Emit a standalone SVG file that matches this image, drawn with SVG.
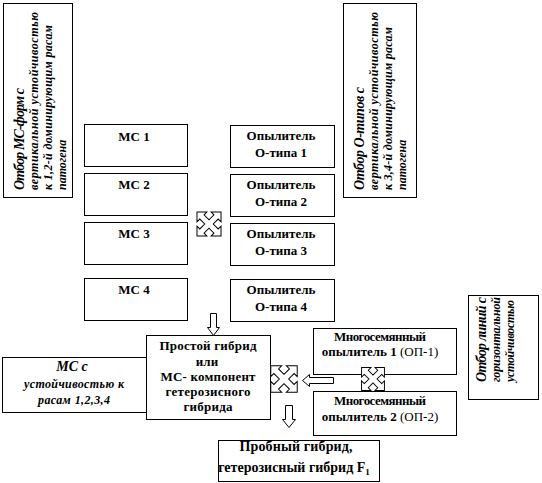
<svg xmlns="http://www.w3.org/2000/svg" width="542" height="483" viewBox="0 0 542 483">
<style>
.b{fill:#fff;stroke:#000;stroke-width:1}
.a{fill:#fff;stroke:#000;stroke-width:1;stroke-linejoin:miter}
.t{font-family:"Liberation Serif","Times New Roman",serif;font-weight:bold;font-size:13px;text-anchor:middle;fill:#000}
.n{font-weight:normal}
.v{font-family:"Liberation Serif","Times New Roman",serif;font-weight:bold;font-style:italic;font-size:12px;fill:#000}
.v1{font-size:14px}
.c{text-anchor:middle}
</style>
<defs>
<path id="quad" d="M0,-17 L7,-10 L3,-10 L3,-3 L10,-3 L10,-7 L17,0 L10,7 L10,3 L3,3 L3,10 L7,10 L0,17 L-7,10 L-3,10 L-3,3 L-10,3 L-10,7 L-17,0 L-10,-7 L-10,-3 L-3,-3 L-3,-10 L-7,-10 Z"/>
</defs>
<rect width="542" height="483" fill="#fff"/>

<g id="sel-ms">
<rect class="b" x="3.5" y="3.5" width="69" height="194"/>
<text class="v v1" transform="translate(24,190) rotate(-90)" textLength="102" lengthAdjust="spacing">Отбор МС-форм с</text>
<text class="v" transform="translate(38,190) rotate(-90)" textLength="178" lengthAdjust="spacing">вертикальной устойчивостью</text>
<text class="v" transform="translate(52,190) rotate(-90)" textLength="165" lengthAdjust="spacing">к 1,2-й доминирующим расам</text>
<text class="v" transform="translate(66,190) rotate(-90)">патогена</text>
</g>

<g id="sel-o">
<rect class="b" x="343.5" y="3.5" width="73" height="194"/>
<text class="v v1" transform="translate(364,190) rotate(-90)" textLength="103" lengthAdjust="spacing">Отбор О-типов с</text>
<text class="v" transform="translate(378,190) rotate(-90)" textLength="178" lengthAdjust="spacing">вертикальной устойчивостью</text>
<text class="v" transform="translate(392,190) rotate(-90)" textLength="163" lengthAdjust="spacing">к 3,4-й доминирующим расам</text>
<text class="v" transform="translate(406,190) rotate(-90)">патогена</text>
</g>

<g id="sel-lines">
<rect class="b" x="468.5" y="295.5" width="70" height="104"/>
<text class="v v1" transform="translate(486,382) rotate(-90)" textLength="85" lengthAdjust="spacing">Отбор линий с</text>
<text class="v" transform="translate(500,382) rotate(-90)" textLength="85" lengthAdjust="spacing">горизонтальной</text>
<text class="v" transform="translate(514,382) rotate(-90)" textLength="82" lengthAdjust="spacing">устойчивостью</text>
</g>

<g id="ms1"><rect class="b" x="84.5" y="124.5" width="103" height="42"/><text class="t" x="134" y="141">МС 1</text></g>
<g id="ms2"><rect class="b" x="84.5" y="173.5" width="103" height="42"/><text class="t" x="134" y="189">МС 2</text></g>
<g id="ms3"><rect class="b" x="84.5" y="222.5" width="103" height="42"/><text class="t" x="134" y="238">МС 3</text></g>
<g id="ms4"><rect class="b" x="84.5" y="278.5" width="103" height="42"/><text class="t" x="134" y="294">МС 4</text></g>

<g id="op1"><rect class="b" x="230.5" y="125.5" width="104" height="42"/><text class="t" x="281" y="140">Опылитель</text><text class="t" x="281" y="157">О-типа 1</text></g>
<g id="op2"><rect class="b" x="230.5" y="174.5" width="104" height="42"/><text class="t" x="281" y="189">Опылитель</text><text class="t" x="281" y="206">О-типа 2</text></g>
<g id="op3"><rect class="b" x="230.5" y="223.5" width="104" height="42"/><text class="t" x="281" y="238">Опылитель</text><text class="t" x="281" y="255">О-типа 3</text></g>
<g id="op4"><rect class="b" x="230.5" y="279.5" width="104" height="42"/><text class="t" x="281" y="294">Опылитель</text><text class="t" x="281" y="311">О-типа 4</text></g>

<g id="ms-res">
<rect class="b" x="2.5" y="357.5" width="144" height="55"/>
<text class="v v1 c" x="72" y="371">МС с</text>
<text class="v c" x="74" y="388" textLength="100" lengthAdjust="spacing">устойчивостью к</text>
<text class="v c" x="74" y="404" textLength="72" lengthAdjust="spacing">расам 1,2,3,4</text>
</g>

<g id="hybrid">
<rect class="b" x="146.5" y="335.5" width="124" height="84"/>
<text class="t" x="208" y="350" textLength="97" lengthAdjust="spacing">Простой гибрид</text>
<text class="t" x="207" y="366">или</text>
<text class="t" x="208" y="381" textLength="95" lengthAdjust="spacing">МС- компонент</text>
<text class="t" x="208" y="396" textLength="85" lengthAdjust="spacing">гетерозисного</text>
<text class="t" x="208" y="411" textLength="49" lengthAdjust="spacing">гибрида</text>
</g>

<g id="mop1">
<rect class="b" x="313.5" y="328.5" width="143" height="46"/>
<text class="t" x="380" y="341" textLength="92" lengthAdjust="spacing">Многосемянный</text>
<text class="t" x="380" y="356">опылитель 1 <tspan class="n">(ОП-1)</tspan></text>
</g>
<g id="mop2">
<rect class="b" x="313.5" y="391.5" width="143" height="44"/>
<text class="t" x="380" y="405" textLength="92" lengthAdjust="spacing">Многосемянный</text>
<text class="t" x="380" y="421">опылитель 2 <tspan class="n">(ОП-2)</tspan></text>
</g>

<g id="test">
<rect class="b" x="218.5" y="440.5" width="161" height="41"/>
<text class="t" x="296" y="451" textLength="113" lengthAdjust="spacing" style="font-size:14px">Пробный гибрид,</text>
<text class="t" x="294" y="472" style="font-size:14px">гетерозисный гибрид F<tspan dy="3" style="font-size:9px">1</tspan></text>
</g>

<g id="connectors">
<use href="#quad" class="a" transform="translate(209,224) rotate(45)"/>
<use href="#quad" class="a" transform="translate(284,379) rotate(45) scale(1.1)" style="stroke-width:0.9"/>
<use href="#quad" class="a" transform="translate(373,379) rotate(45) scale(0.95)"/>
<path class="a" d="M210.5,313.5 H216.5 V327.5 H219.5 L213.5,335.5 L207.5,327.5 H210.5 Z"/>
<path class="a" d="M285.5,405.5 H292.5 V419.5 H295.5 L289,427.5 L282.5,419.5 H285.5 Z"/>
<path class="a" d="M333.5,377.5 H309.5 V374.5 L302.5,380.5 L309.5,386.5 V383.5 H333.5 Z"/>
</g>
</svg>
